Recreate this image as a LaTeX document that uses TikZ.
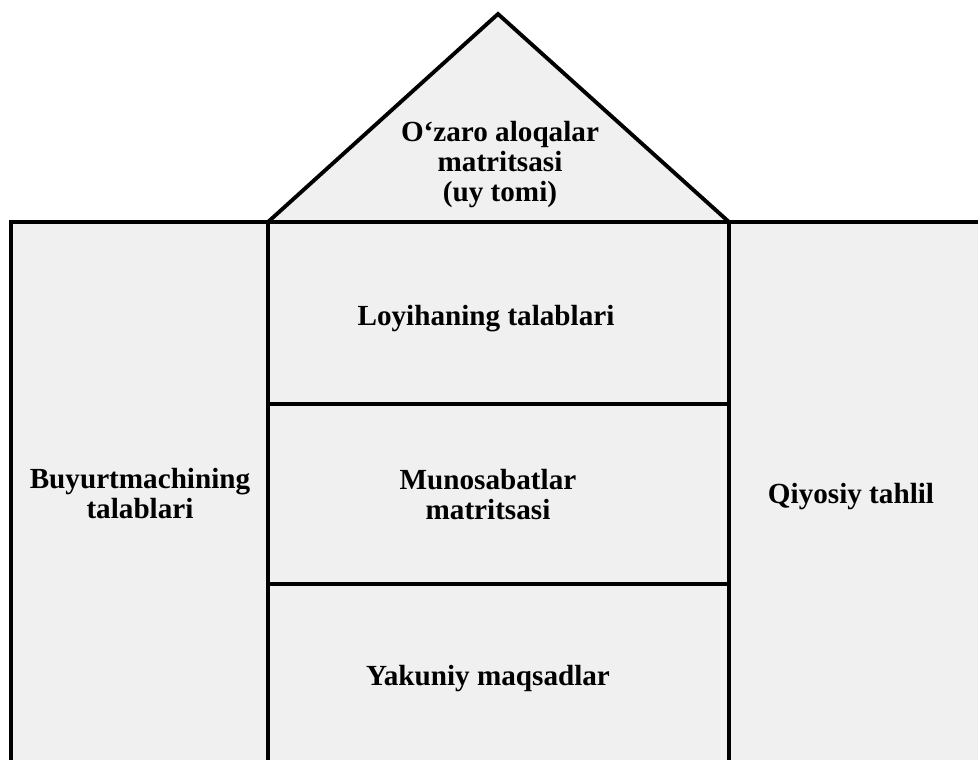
\documentclass[tikz,border=0pt]{standalone}
\usepackage{fontspec}
\setmainfont{Liberation Serif}
\usepackage{tikz}
\definecolor{housefill}{HTML}{F0F0F0}

\begin{document}
\begin{tikzpicture}[x=0.02cm,y=-0.02cm,line width=2.2pt,line join=miter,
  lbl/.style={font=\fontsize{16.6}{17.3}\selectfont\bfseries,align=center,anchor=base}]
\useasboundingbox (0,0) rectangle (978,760);
\begin{scope}
\clip (0,0) rectangle (978,760);
\fill[housefill] (11,770) -- (11,222) -- (268,222) -- (498,14) -- (729,222) -- (990,222) -- (990,770) -- cycle;
\draw (11,770) -- (11,222) -- (990,222);
\draw (268,222) -- (498,14) -- (729,222);
\draw (268,222) -- (268,770);
\draw (729,222) -- (729,770);
\draw (268,404) -- (729,404);
\draw (268,584) -- (729,584);
\end{scope}
\node[lbl] (roof) at (500,202) {O‘zaro aloqalar\\matritsasi\\(uy tomi)};
\node[lbl] (design) at (486,326) {Loyihaning talablari};
\node[lbl] (relations) at (488,520) {Munosabatlar\\matritsasi};
\node[lbl] (targets) at (488,685) {Yakuniy maqsadlar};
\node[lbl] (customer) at (140,519) {Buyurtmachining\\talablari};
\node[lbl] (compare) at (851,503) {Qiyosiy tahlil};
\end{tikzpicture}
\end{document}
